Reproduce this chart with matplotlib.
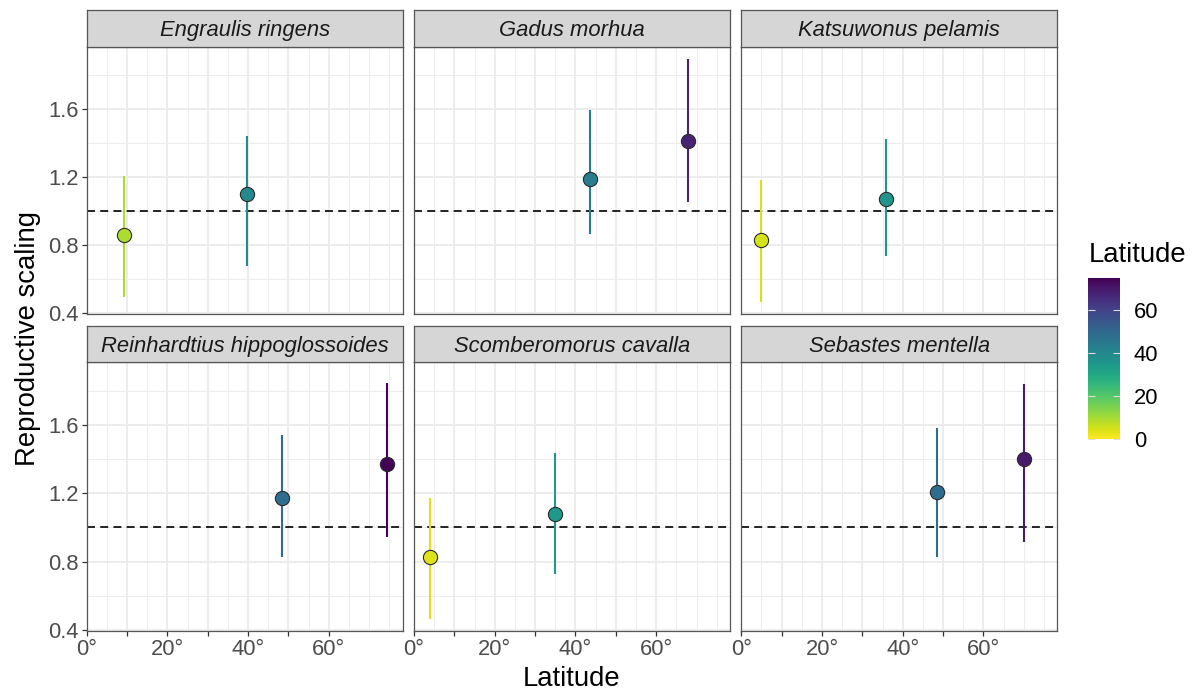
import matplotlib
matplotlib.use("Agg")
import matplotlib.pyplot as plt
from matplotlib import colors
from matplotlib.cm import ScalarMappable

plt.rcParams['font.family'] = ['Liberation Sans', 'DejaVu Sans']

# ---------------- data ----------------
species = ["Engraulis ringens", "Gadus morhua", "Katsuwonus pelamis",
           "Reinhardtius hippoglossoides", "Scomberomorus cavalla", "Sebastes mentella"]
latitude = [[9.3, 39.7], [43.6, 67.9], [4.9, 35.8],
            [48.4, 74.5], [4.0, 35.0], [48.6, 70.0]]
estimate = [[0.86, 1.10], [1.19, 1.41], [0.83, 1.07],
            [1.17, 1.37], [0.83, 1.08], [1.21, 1.40]]
lower = [[0.495, 0.676], [0.866, 1.053], [0.466, 0.737],
         [0.826, 0.947], [0.468, 0.727], [0.830, 0.917]]
upper = [[1.207, 1.440], [1.594, 1.894], [1.181, 1.425],
         [1.539, 1.845], [1.171, 1.436], [1.580, 1.838]]
x_major = [0, 10, 20, 30, 40, 50, 60]
x_labels = ["0°", "", "20°", "", "40°", "", "60°"]
x_minor = [5, 15, 25, 35, 45, 55, 65, 70, 75]
y_major = [0.4, 0.8, 1.2, 1.6]
y_minor = [0.6, 1.0, 1.4, 1.8]
cbar_ticks = [0, 20, 40, 60]

# ---------------- layout ----------------
W, H = 1196, 691
fig = plt.figure(figsize=(W / 100, H / 100), dpi=100)


def fx(x):
    return x / W


def fy(y):
    return 1 - y / H


col_left = [86.7, 414.0, 741.3]
pw = 316.0
rows = [(46.7, 314.0, 10.0), (362.3, 631.0, 325.7)]  # panel top, bottom, strip top

cmap = plt.get_cmap('viridis_r')
norm = colors.Normalize(0, 75)

border_col = '#555555'
tick_fs = 15.8
title_fs = 19.8

for i, name in enumerate(species):
    r, c = divmod(i, 3)
    top, bot, stop = rows[r]
    ax = fig.add_axes([fx(col_left[c]), fy(bot), pw / W, (bot - top) / H])
    ax.set_xlim(0, 78.3)
    ax.set_ylim(0.395, 1.965)
    ax.set_xticks(x_major)
    ax.set_xticks(x_minor, minor=True)
    ax.set_yticks(y_major)
    ax.set_yticks(y_minor, minor=True)
    ax.grid(which='major', color='#EBEBEB', lw=1.3)
    ax.grid(which='minor', color='#EBEBEB', lw=0.65)
    ax.set_axisbelow(True)
    for s in ax.spines.values():
        s.set_color(border_col)
        s.set_linewidth(0.9)
    ax.tick_params(which='minor', length=0)
    ax.tick_params(which='major', length=3.5, width=0.9, color='#333333',
                   labelsize=tick_fs, labelcolor='#4D4D4D', pad=2)
    if r == 1:
        ax.set_xticklabels(x_labels)
    else:
        ax.tick_params(axis='x', which='major', length=0, labelbottom=False)
    if c == 0:
        ax.set_yticklabels([f"{v:.1f}" for v in y_major])
    else:
        ax.tick_params(axis='y', which='major', length=0, labelleft=False)

    ax.axhline(1.0, color='#222222', lw=1.4, ls=(0, (4.1, 2.7)), zorder=2)
    for la, es, lo, hi in zip(latitude[i], estimate[i], lower[i], upper[i]):
        colr = cmap(norm(la))
        ax.vlines(la, lo, hi, color=colr, lw=1.5, zorder=3)
        ax.scatter([la], [es], s=105, color=[colr], edgecolors='#2b2b2b',
                   linewidths=0.8, zorder=4)

    # strip
    sax = fig.add_axes([fx(col_left[c]), fy(top), pw / W, (top - stop) / H])
    sax.set_facecolor('#D6D6D6')
    sax.set_xticks([])
    sax.set_yticks([])
    for s in sax.spines.values():
        s.set_color(border_col)
        s.set_linewidth(0.9)
    sax.text(0.5, 0.29, name, transform=sax.transAxes, ha='center', va='baseline',
             fontsize=tick_fs, style='italic', color='#1A1A1A')

# axis titles
fig.text(fx(28), fy(339), 'Reproductive scaling', rotation=90, ha='center',
         va='center', fontsize=title_fs)
fig.text(fx(572), fy(686), 'Latitude', ha='center', va='baseline', fontsize=title_fs)

# colorbar legend
cax = fig.add_axes([fx(1088), fy(439), 32 / W, (439 - 278) / H])
cb = fig.colorbar(ScalarMappable(norm=norm, cmap=cmap), cax=cax)
cb.outline.set_visible(False)
cb.set_ticks(cbar_ticks)
cb.ax.tick_params(axis='y', which='major', left=True, right=True,
                  labelleft=False, labelright=True, direction='in',
                  length=5, width=0.8, color='#dddddd', labelsize=tick_fs, pad=10)
cb.ax.tick_params(which='minor', length=0)
fig.text(fx(1089), fy(261.7), 'Latitude', ha='left', va='baseline', fontsize=title_fs)

fig.savefig('out.png', dpi=100)
